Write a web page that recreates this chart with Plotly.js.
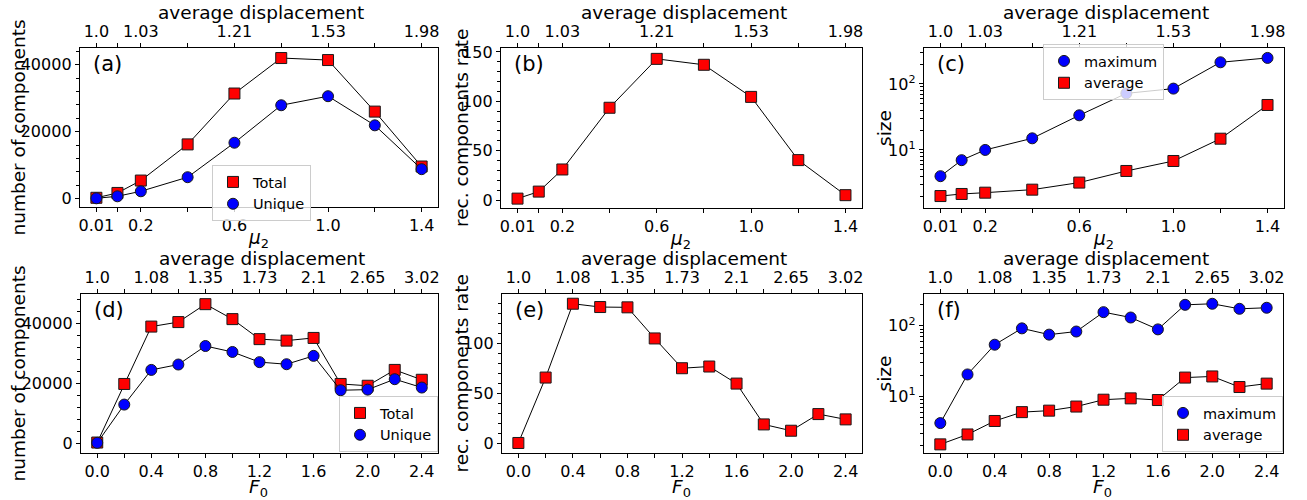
<!DOCTYPE html>
<html><head><meta charset="utf-8">
<script src="https://cdn.plot.ly/plotly-3.0.1.min.js"></script>
<style>html,body{margin:0;padding:0;background:#fff}#chart{width:1307px;height:500px}</style>
</head><body><div id="chart"></div>
<script>
// ---- data ----
const mu2 = [0.01, 0.1, 0.2, 0.4, 0.6, 0.8, 1.0, 1.2, 1.4];
const mu2Labels = ['0.01', '', '0.2', '', '0.6', '', '1.0', '', '1.4'];
const mu2Disp = ['1.0', '', '1.03', '', '1.21', '', '1.53', '', '1.98'];
const totalMu = [250, 1700, 5400, 16200, 31400, 42000, 41400, 26000, 9600];
const uniqueMu = [100, 700, 2200, 6400, 16700, 27900, 30600, 21900, 8800];
const rateMu = [1.5, 8.6, 31, 93.5, 143, 137, 104.5, 40.5, 5];
const maxMu = [4, 7, 10, 15, 33.5, 72, 85, 213, 248];
const avgMu = [2, 2.15, 2.25, 2.5, 3.2, 4.8, 6.8, 14.8, 48];

const f0 = [0.0, 0.2, 0.4, 0.6, 0.8, 1.0, 1.2, 1.4, 1.6, 1.8, 2.0, 2.2, 2.4];
const f0Labels = ['0.0', '', '0.4', '', '0.8', '', '1.2', '', '1.6', '', '2.0', '', '2.4'];
const f0Disp = ['1.0', '', '1.08', '', '1.35', '', '1.73', '', '2.1', '', '2.65', '', '3.02'];
const totalF = [300, 19900, 39100, 40600, 46600, 41600, 34900, 34400, 35300, 19900, 19300, 24600, 21300];
const uniqueF = [200, 13000, 24600, 26400, 32600, 30600, 27200, 26500, 29300, 17800, 18000, 21500, 18700];
const rateF = [0.5, 65.7, 139.3, 136, 135.7, 104.7, 75, 76.7, 59.7, 19, 12.7, 29.3, 24];
const maxF = [4.2, 20.5, 54, 92, 75, 83, 156, 131, 89, 198, 205, 174, 180];
const avgF = [2.1, 2.9, 4.5, 6.0, 6.3, 7.2, 9.0, 9.4, 8.9, 18.5, 19.2, 13.6, 15.2];

const logTickVals = [10, 100];
const logTickText = ['10<sup>1</sup>', '10<sup>2</sup>'];
const topTitle = 'average displacement';

// ---- layout helpers ----
const W = 1307, H = 500;
const FONT = 'DejaVu Sans, sans-serif';
const px = v => v / W, py = v => 1 - v / H;

const RED = {symbol: 'square', color: '#ff0000', size: 11, line: {color: '#1a1a1a', width: 1}};
const BLUE = {symbol: 'circle', color: '#0000ff', size: 11, line: {color: '#1a1a1a', width: 1}};

const panels = [
  {lab: '(a)', x: mu2, xl: mu2Labels, xd: mu2Disp, xr: [-0.06, 1.47], xt: '<i>μ</i><sub>2</sub>', xto: 32,
   box: [80, 438, 48, 207], yt: 'number of components', ytx: 18, yr: [-2500, 45000], dt: 20000, mdt: 4000,
   series: [[totalMu, RED, 'Total'], [uniqueMu, BLUE, 'Unique']], leg: 'legend'},
  {lab: '(b)', x: mu2, xl: mu2Labels, xd: mu2Disp, xr: [-0.06, 1.47], xt: '<i>μ</i><sub>2</sub>', xto: 32,
   box: [501, 862, 48, 208], yt: 'rec. components rate', ytx: 461, yr: [-8, 154], dt: 50, mdt: 10,
   series: [[rateMu, RED, 'rate']], leg: null},
  {lab: '(c)', x: mu2, xl: mu2Labels, xd: mu2Disp, xr: [-0.06, 1.47], xt: '<i>μ</i><sub>2</sub>', xto: 32,
   box: [924, 1284, 48, 208], yt: 'size', ytx: 884, yr: [0.12, 2.545], log: true,
   series: [[maxMu, BLUE, 'maximum'], [avgMu, RED, 'average']], leg: 'legend2'},
  {lab: '(d)', x: f0, xl: f0Labels, xd: f0Disp, xr: [-0.12, 2.52], xt: '<i>F</i><sub>0</sub>', xto: 35,
   box: [81, 438, 294, 453], yt: 'number of components', ytx: 18, yr: [-3200, 50000], dt: 20000, mdt: 4000,
   series: [[totalF, RED, 'Total'], [uniqueF, BLUE, 'Unique']], leg: 'legend3'},
  {lab: '(e)', x: f0, xl: f0Labels, xd: f0Disp, xr: [-0.12, 2.52], xt: '<i>F</i><sub>0</sub>', xto: 35,
   box: [502, 862, 294, 453], yt: 'rec. components rate', ytx: 461, yr: [-9.5, 149], dt: 50, mdt: 10,
   series: [[rateF, RED, 'rate']], leg: null},
  {lab: '(f)', x: f0, xl: f0Labels, xd: f0Disp, xr: [-0.12, 2.52], xt: '<i>F</i><sub>0</sub>', xto: 35,
   box: [924, 1283, 294, 453], yt: 'size', ytx: 884, yr: [0.2, 2.45], log: true,
   series: [[maxF, BLUE, 'maximum'], [avgF, RED, 'average']], leg: 'legend4'}
];

const tickFont = {family: FONT, size: 16, color: '#000'};
const titleFont = {family: FONT, size: 18.5, color: '#000'};

// log minor tick positions (2..9 of each decade)
const logMinor = [];
[1, 10, 100].forEach(d => { for (let k = 2; k <= 9; k++) logMinor.push(k * d); });

const layout = {
  width: W, height: H, margin: {l: 0, r: 0, t: 0, b: 0},
  paper_bgcolor: '#fff', plot_bgcolor: '#fff',
  font: {family: FONT, color: '#000'},
  annotations: [], hovermode: false
};
const traces = [];

const keep = (arr, lbl) => arr.filter((_, k) => lbl[k] !== '');
const ann = (text, x, y, extra) => Object.assign({
  text: text, xref: 'paper', yref: 'paper', x: px(x), y: py(y),
  xanchor: 'center', yanchor: 'middle', showarrow: false, font: titleFont
}, extra || {});

panels.forEach((p, i) => {
  const bn = 2 * i + 1, tn = 2 * i + 2, yn = i + 1;
  const bKey = bn === 1 ? 'xaxis' : 'xaxis' + bn;
  const tKey = 'xaxis' + tn;
  const yKey = yn === 1 ? 'yaxis' : 'yaxis' + yn;
  const bId = 'x' + bn, tId = 'x' + tn, yId = 'y' + yn;
  const [x0, x1, y0, y1] = p.box;
  const minorX = {ticks: 'outside', ticklen: 4, tickwidth: 1, tickcolor: '#000',
                  tickmode: 'array', tickvals: p.x, showgrid: false};
  layout[bKey] = {
    domain: [px(x0), px(x1)], anchor: yId, range: p.xr,
    tickmode: 'array', tickvals: keep(p.x, p.xl), ticktext: keep(p.xl, p.xl),
    ticks: 'outside', ticklen: 4, tickwidth: 1, tickcolor: '#000', minor: minorX,
    showline: true, linecolor: '#000', linewidth: 1.2, mirror: true,
    showgrid: false, zeroline: false, tickfont: tickFont
  };
  layout[tKey] = {
    overlaying: bId, side: 'top', anchor: yId, range: p.xr,
    tickmode: 'array', tickvals: keep(p.x, p.xd), ticktext: keep(p.xd, p.xd),
    ticks: 'outside', ticklen: 4, tickwidth: 1, tickcolor: '#000', minor: minorX,
    showline: false, showgrid: false, zeroline: false, tickfont: tickFont
  };
  const ya = {
    domain: [py(y1), py(y0)], anchor: bId, range: p.yr,
    ticks: 'outside', ticklen: 4, tickwidth: 1, tickcolor: '#000',
    showline: true, linecolor: '#000', linewidth: 1.2, mirror: true,
    showgrid: false, zeroline: false, tickfont: tickFont
  };
  if (p.log) {
    ya.type = 'log';
    ya.tickmode = 'array';
    ya.tickvals = logTickVals;
    ya.ticktext = logTickText;
    ya.minor = {ticks: 'outside', ticklen: 2.5, tickcolor: '#000', tickmode: 'array',
                tickvals: logMinor, showgrid: false};
  } else {
    ya.tickmode = 'linear'; ya.tick0 = 0; ya.dtick = p.dt; ya.tickformat = 'd';
    ya.minor = {ticks: 'outside', ticklen: 2.5, tickcolor: '#000', dtick: p.mdt, showgrid: false};
  }
  layout[yKey] = ya;

  p.series.forEach(([vals, mk, name], s) => {
    traces.push({x: p.x, y: vals, xaxis: bId, yaxis: yId, mode: 'lines',
      line: {color: '#000', width: 1}, showlegend: false, hoverinfo: 'skip'});
    const t = {x: p.x, y: vals, xaxis: bId, yaxis: yId, mode: 'markers', name: name,
      marker: mk, showlegend: !!p.leg, hoverinfo: 'skip', cliponaxis: false};
    if (p.leg) t.legend = p.leg;
    traces.push(t);
    if (s === 0) {
      // same series bound to the top (average displacement) axis, invisible, so that axis is drawn
      traces.push({x: p.x, y: vals, xaxis: tId, yaxis: yId, mode: 'lines',
        line: {color: 'rgba(0,0,0,0)', width: 0}, showlegend: false, hoverinfo: 'skip'});
    }
  });

  const cx = (x0 + x1) / 2, cy = (y0 + y1) / 2;
  layout.annotations.push(ann(p.lab, x0 + 11, y0 + 16, {xanchor: 'left', font: {family: FONT, size: 21, color: '#000'}}));
  layout.annotations.push(ann(topTitle, cx + 2, y0 - 36));
  layout.annotations.push(ann(p.xt, cx - 1, y1 + p.xto));
  layout.annotations.push(ann(p.yt, p.ytx, cy, {textangle: -90}));
});

const legBase = {
  bgcolor: 'rgba(255,255,255,0.8)', bordercolor: '#cccccc', borderwidth: 1,
  font: {family: FONT, size: 14.5, color: '#000'}, itemwidth: 30, tracegroupgap: 0,
  itemclick: false, itemdoubleclick: false
};
layout.legend = Object.assign({}, legBase, {x: px(212), y: py(165), xanchor: 'left', yanchor: 'top'});
layout.legend2 = Object.assign({}, legBase, {x: px(1043), y: py(44), xanchor: 'left', yanchor: 'top'});
layout.legend3 = Object.assign({}, legBase, {x: px(438), y: py(452), xanchor: 'right', yanchor: 'bottom'});
layout.legend4 = Object.assign({}, legBase, {x: px(1283), y: py(452), xanchor: 'right', yanchor: 'bottom'});

Plotly.newPlot('chart', traces, layout, {staticPlot: true, displayModeBar: false});
</script>
</body></html>
